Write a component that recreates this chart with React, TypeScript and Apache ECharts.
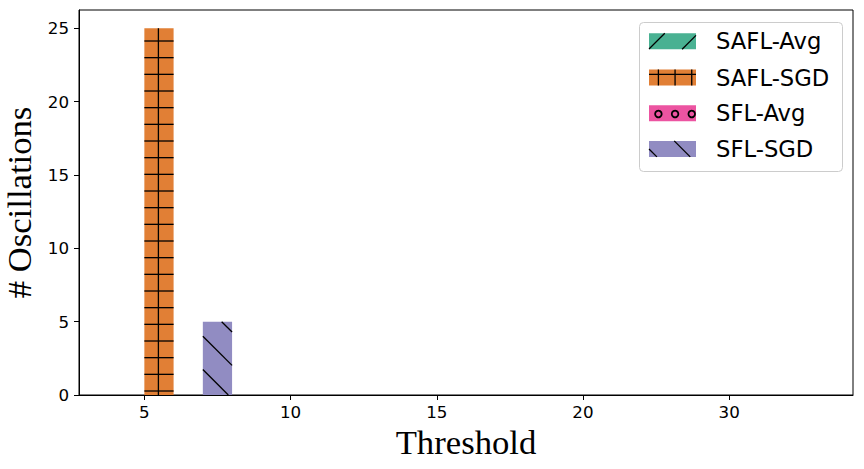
import React, { useEffect, useRef } from "react";
import * as echarts from "echarts";

// ---- data ----
const thresholds = ["5", "10", "15", "20", "30"];
const seriesNames = ["SAFL-Avg", "SAFL-SGD", "SFL-Avg", "SFL-SGD"];
const saflAvg = [0, 0, 0, 0, 0];
const saflSgd = [25, 0, 0, 0, 0];
const sflAvg = [0, 0, 0, 0, 0];
const sflSgd = [5, 0, 0, 0, 0];
const yTicks = [0, 5, 10, 15, 20, 25];
const xTicks = [0, 1, 2, 3, 4];

// ---- styles ----
const COLORS = ["#49b192", "#e17f35", "#ec54a1", "#918cc2"];
const HATCH = ["/", "+", "o", "\\"];
const BAR_W = 0.2;
const OFFSETS = [-0.1, 0.1, 0.3, 0.5];
const STEP = 100 / 6;
const DIAG = 100 / 3;
const HATCH_COLOR = "#000";
const HATCH_W = 1.3;

function mod(a: number, m: number) {
  return ((a % m) + m) % m;
}

function hatchElements(kind: string, x0: number, y0: number, x1: number, y1: number): any[] {
  const els: any[] = [];
  const ls = { stroke: HATCH_COLOR, lineWidth: HATCH_W };
  if (kind === "/") {
    const cmin = x0 + y0;
    const cmax = x1 + y1;
    for (let c = cmin + mod(31.4 - cmin, DIAG); c <= cmax; c += DIAG) {
      const xa = Math.max(x0, c - y1);
      const xb = Math.min(x1, c - y0);
      if (xb - xa > 0.5)
        els.push({ type: "line", shape: { x1: xa, y1: c - xa, x2: xb, y2: c - xb }, style: ls });
    }
  } else if (kind === "\\") {
    const cmin = y0 - x1;
    const cmax = y1 - x0;
    for (let c = cmin + mod(0 - cmin, DIAG); c <= cmax; c += DIAG) {
      const xa = Math.max(x0, y0 - c);
      const xb = Math.min(x1, y1 - c);
      if (xb - xa > 0.5)
        els.push({ type: "line", shape: { x1: xa, y1: xa + c, x2: xb, y2: xb + c }, style: ls });
    }
  } else if (kind === "+") {
    for (let y = y0 + mod(7.67 - y0, STEP); y <= y1; y += STEP) {
      els.push({ type: "line", shape: { x1: x0, y1: y, x2: x1, y2: y }, style: ls });
    }
    for (let x = x0 + mod(8.4 - x0, STEP); x <= x1; x += STEP) {
      els.push({ type: "line", shape: { x1: x, y1: y0, x2: x, y2: y1 }, style: ls });
    }
  } else if (kind === "o") {
    const r = 3.3;
    for (let y = y0 + mod(14 - y0, STEP); y <= y1; y += STEP) {
      for (let x = x0 + mod(8.4 - x0, STEP); x <= x1; x += STEP) {
        if (x - r >= x0 - 1 && x + r <= x1 + 1 && y - r >= y0 - 1 && y + r <= y1 + 1)
          els.push({
            type: "circle",
            shape: { cx: x, cy: y, r },
            style: { fill: "none", stroke: HATCH_COLOR, lineWidth: 1.8 },
          });
      }
    }
  }
  return els;
}

const allValues = [saflAvg, saflSgd, sflAvg, sflSgd];

export default function App() {
  const ref = useRef<HTMLDivElement>(null);
  useEffect(() => {
    if (!ref.current) return;
    const chart = echarts.init(ref.current, undefined, { renderer: "svg" });

    const series = allValues.map((vals, k) => ({
      type: "custom",
      name: seriesNames[k],
      data: vals.map((v, i) => [i + OFFSETS[k], v]),
      encode: { x: 0, y: 1 },
      renderItem: (params: any, api: any) => {
        const x = api.value(0);
        const v = api.value(1);
        if (!v) return { type: "group", children: [] };
        const p0 = api.coord([x - BAR_W / 2, 0]);
        const p1 = api.coord([x + BAR_W / 2, v]);
        const x0 = p0[0], x1 = p1[0], y0 = p1[1], y1 = p0[1];
        return {
          type: "group",
          children: [
            { type: "rect", shape: { x: x0, y: y0, width: x1 - x0, height: y1 - y0 }, style: { fill: COLORS[k] } },
            ...hatchElements(HATCH[k], x0, y0, x1, y1),
          ],
        };
      },
    }));

    // legend (drawn manually to show hatches)
    const legendChildren: any[] = [
      {
        type: "rect",
        shape: { x: 639.5, y: 22.5, width: 203, height: 149, r: 4 },
        style: { fill: "rgba(255,255,255,0.8)", stroke: "#cccccc", lineWidth: 1 },
      },
    ];
    const rowCenters = [41.3, 77.5, 113.3, 148.9];
    seriesNames.forEach((name, k) => {
      const cy = rowCenters[k];
      const px0 = 649, px1 = 696, py0 = cy - 8, py1 = cy + 8;
      legendChildren.push({
        type: "rect",
        shape: { x: px0, y: py0, width: px1 - px0, height: py1 - py0 },
        style: { fill: COLORS[k] },
      });
      legendChildren.push(...hatchElements(HATCH[k], px0, py0, px1, py1));
      legendChildren.push({
        type: "text",
        x: 716,
        y: cy,
        style: {
          text: name,
          fontSize: 22.7,
          fontFamily: "DejaVu Sans",
          fill: "#000",
          verticalAlign: "middle",
          align: "left",
        },
      });
    });

    chart.setOption({
      animation: false,
      backgroundColor: "#fff",
      grid: {
        left: 79,
        right: 11,
        top: 10,
        bottom: 74,
        outerBoundsMode: "none",
        containLabel: false,
        show: true,
        borderColor: "#000",
        borderWidth: 1,
        backgroundColor: "transparent",
      },
      xAxis: {
        type: "value",
        min: -0.447,
        max: 4.847,
        name: "Threshold",
        nameLocation: "middle",
        nameGap: 30,
        nameTextStyle: { fontFamily: "Liberation Serif", fontSize: 34.7, color: "#000" },
        axisLine: { show: true, onZero: false, lineStyle: { color: "#000", width: 1 } },
        axisTick: { show: true, length: 5, lineStyle: { color: "#000" }, customValues: xTicks },
        axisLabel: {
          customValues: xTicks,
          formatter: (v: number) => thresholds[Math.round(v)] ?? "",
          fontFamily: "DejaVu Sans",
          fontSize: 16.7,
          color: "#000",
          margin: 8,
        },
        splitLine: { show: false },
      },
      yAxis: {
        type: "value",
        min: 0,
        max: 26.25,
        name: "# Oscillations",
        nameLocation: "middle",
        nameGap: 42,
        nameTextStyle: { fontFamily: "Liberation Serif", fontSize: 34.7, color: "#000" },
        axisLine: { show: true, onZero: false, lineStyle: { color: "#000", width: 1 } },
        axisTick: { show: true, length: 5, lineStyle: { color: "#000" }, customValues: yTicks },
        axisLabel: {
          customValues: yTicks,
          fontFamily: "DejaVu Sans",
          fontSize: 16.7,
          color: "#000",
          margin: 10,
        },
        splitLine: { show: false },
      },
      series,
      graphic: [{ type: "group", x: 0, y: 0, children: legendChildren }],
    });
    return () => chart.dispose();
  }, []);
  return (
    <div
      ref={ref}
      style={{ position: "fixed", left: 0, top: 0, width: 864, height: 469, background: "#fff" }}
    />
  );
}
